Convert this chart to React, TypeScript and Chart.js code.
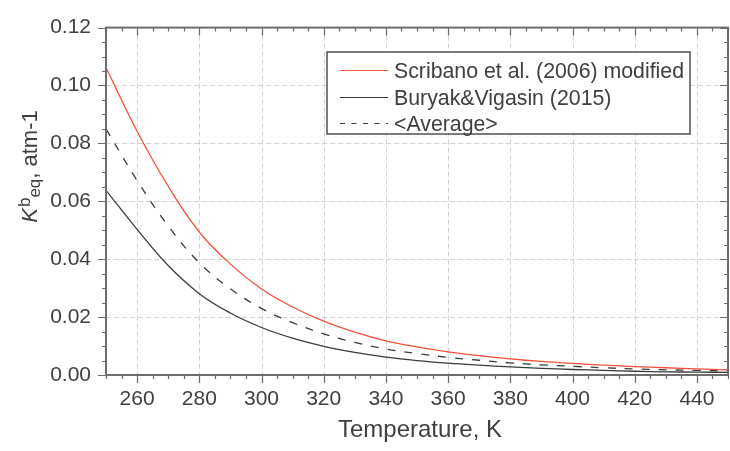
import React, { useEffect, useRef } from "react";
import { Chart, registerables } from "chart.js";

Chart.register(...registerables);

// ---- data ----
const temperatures = [250, 260, 270, 280, 290, 300, 310, 320, 330, 340, 350, 360, 370, 380, 390, 400, 410, 420, 430, 440, 450];
const scribano = [0.1062, 0.0842, 0.0652, 0.0494, 0.0383, 0.0297, 0.0235, 0.0186, 0.0148, 0.0118, 0.0097, 0.008, 0.0067, 0.0056, 0.0047, 0.004, 0.0034, 0.0029, 0.0025, 0.0021, 0.0018];
const buryak = [0.0638, 0.0503, 0.0378, 0.0281, 0.0214, 0.0164, 0.0127, 0.0099, 0.0078, 0.0062, 0.005, 0.0041, 0.0034, 0.0028, 0.0023, 0.0019, 0.0016, 0.0013, 0.0011, 0.001, 0.0009];
const average = [0.085, 0.0672, 0.0515, 0.0388, 0.0298, 0.023, 0.0181, 0.0142, 0.0113, 0.009, 0.0074, 0.0061, 0.0051, 0.0042, 0.0035, 0.003, 0.0025, 0.0021, 0.0018, 0.0016, 0.0014];

const xTickValues = [260, 280, 300, 320, 340, 360, 380, 400, 420, 440];
const yTickValues = [0, 0.02, 0.04, 0.06, 0.08, 0.1, 0.12];
const legendLabels = ["Scribano et al. (2006) modified", "Buryak&Vigasin (2015)", "<Average>"];
const xTitle = "Temperature, K";
const yTitleParts = { main: "K", sup: "b", sub: "eq", rest: ", atm-1" };

const X_MIN = 250;
const X_MAX = 450;
const Y_MIN = 0;
const Y_MAX = 0.12;
const X_MINOR = 5;
const Y_MINOR = 0.005;

const FONT = '"Liberation Sans", Arial, Helvetica, sans-serif';
const TEXT = "#404040";
const RED = "#f4503c";
const DARK = "#3c3c3c";

const framePlugin = {
  id: "framePlugin",
  beforeDatasetsDraw(chart: any) {
    const { ctx, chartArea: a, scales } = chart;
    ctx.save();
    ctx.strokeStyle = "#d2d2d2";
    ctx.lineWidth = 1;
    ctx.setLineDash([5, 3]);
    for (const v of xTickValues) {
      const x = Math.round(scales.x.getPixelForValue(v)) + 0.5;
      ctx.beginPath();
      ctx.moveTo(x, a.top);
      ctx.lineTo(x, a.bottom);
      ctx.stroke();
    }
    for (const v of yTickValues) {
      if (v === Y_MIN || v === Y_MAX) continue;
      const y = Math.round(scales.y.getPixelForValue(v)) + 0.5;
      ctx.beginPath();
      ctx.moveTo(a.left, y);
      ctx.lineTo(a.right, y);
      ctx.stroke();
    }
    ctx.restore();
  },
  afterDatasetsDraw(chart: any) {
    const { ctx, chartArea: a, scales } = chart;
    ctx.save();
    ctx.setLineDash([]);
    // tick marks
    ctx.strokeStyle = "#6a6a6a";
    ctx.lineWidth = 1.2;
    const nX = Math.round((X_MAX - X_MIN) / X_MINOR);
    for (let i = 0; i <= nX; i++) {
      const v = X_MIN + i * X_MINOR;
      const major = xTickValues.includes(v);
      const len = major ? 8 : 4;
      const x = Math.round(scales.x.getPixelForValue(v)) + 0.5;
      ctx.beginPath();
      ctx.moveTo(x, a.bottom);
      ctx.lineTo(x, a.bottom + len);
      ctx.moveTo(x, a.top);
      ctx.lineTo(x, a.top + len);
      ctx.stroke();
    }
    const nY = Math.round((Y_MAX - Y_MIN) / Y_MINOR);
    for (let i = 0; i <= nY; i++) {
      const v = Y_MIN + i * Y_MINOR;
      const major = i % 4 === 0;
      const len = major ? 8 : 4;
      const y = Math.round(scales.y.getPixelForValue(v)) + 0.5;
      ctx.beginPath();
      ctx.moveTo(a.left, y);
      ctx.lineTo(a.left - len, y);
      ctx.moveTo(a.right, y);
      ctx.lineTo(a.right - len, y);
      ctx.stroke();
    }
    // frame
    ctx.strokeStyle = "#6e6e6e";
    ctx.lineWidth = 2;
    ctx.strokeRect(a.left, a.top, a.right - a.left, a.bottom - a.top);

    // legend
    const bx = 327, by = 52, bw = 363, bh = 82;
    ctx.fillStyle = "#ffffff";
    ctx.fillRect(bx, by, bw, bh);
    ctx.strokeStyle = "#505050";
    ctx.lineWidth = 1.5;
    ctx.strokeRect(bx, by, bw, bh);
    const rows = [70, 97, 123];
    const colors = [RED, DARK, DARK];
    const dashes = [[], [], [5, 6.5]];
    ctx.font = `21.3px ${FONT}`;
    ctx.textBaseline = "alphabetic";
    ctx.textAlign = "left";
    legendLabels.forEach((label, i) => {
      ctx.strokeStyle = colors[i];
      ctx.lineWidth = 1.2;
      ctx.setLineDash(dashes[i]);
      ctx.beginPath();
      ctx.moveTo(340, rows[i] + 0.5);
      ctx.lineTo(388, rows[i] + 0.5);
      ctx.stroke();
      ctx.setLineDash([]);
      ctx.fillStyle = TEXT;
      ctx.fillText(label, 394, rows[i] + 8);
    });

    // x title
    ctx.fillStyle = TEXT;
    ctx.font = `24px ${FONT}`;
    ctx.textAlign = "center";
    ctx.fillText(xTitle, (a.left + a.right) / 2 + 3, 437);

    // y title (rotated)
    ctx.save();
    ctx.translate(37, 166.5);
    ctx.rotate(-Math.PI / 2);
    ctx.textAlign = "left";
    const big = `22px ${FONT}`;
    const bigI = `italic 22px ${FONT}`;
    const small = `17px ${FONT}`;
    ctx.font = bigI;
    const wK = ctx.measureText(yTitleParts.main).width;
    ctx.font = small;
    const wSup = ctx.measureText(yTitleParts.sup).width;
    const wSub = ctx.measureText(yTitleParts.sub).width;
    ctx.font = big;
    const wRest = ctx.measureText(yTitleParts.rest).width;
    const total = wK + 1 + wSup + wSub + wRest;
    let x = -total / 2;
    ctx.font = bigI;
    ctx.fillText(yTitleParts.main, x, 0);
    x += wK + 1;
    ctx.font = small;
    ctx.fillText(yTitleParts.sup, x, -7);
    x += wSup;
    ctx.fillText(yTitleParts.sub, x, 3);
    x += wSub;
    ctx.font = big;
    ctx.fillText(yTitleParts.rest, x, 0);
    ctx.restore();

    ctx.restore();
  },
};

export default function App() {
  const canvasRef = useRef<HTMLCanvasElement | null>(null);

  useEffect(() => {
    const canvas = canvasRef.current;
    if (!canvas) return;
    const common = {
      borderWidth: 1.3,
      pointRadius: 0,
      fill: false,
      tension: 0.4,
    };
    const chart = new Chart(canvas, {
      type: "line",
      data: {
        datasets: [
          {
            ...common,
            label: legendLabels[0],
            data: temperatures.map((t, i) => ({ x: t, y: scribano[i] })),
            borderColor: RED,
          },
          {
            ...common,
            label: legendLabels[1],
            data: temperatures.map((t, i) => ({ x: t, y: buryak[i] })),
            borderColor: DARK,
          },
          {
            ...common,
            label: legendLabels[2],
            data: temperatures.map((t, i) => ({ x: t, y: average[i] })),
            borderColor: DARK,
            borderDash: [8, 9],
          },
        ],
      },
      options: {
        animation: false,
        responsive: false,
        devicePixelRatio: 1,
        layout: { padding: { top: 21, right: 2, left: 0, bottom: 0 } },
        plugins: { legend: { display: false }, tooltip: { enabled: false } },
        scales: {
          x: {
            type: "linear",
            min: X_MIN,
            max: X_MAX,
            grid: { display: false, drawTicks: false },
            border: { display: false },
            afterBuildTicks: (s: any) => {
              s.ticks = xTickValues.map((v) => ({ value: v }));
            },
            afterFit: (s: any) => {
              s.height = 76;
            },
            ticks: {
              autoSkip: false,
              maxRotation: 0,
              padding: 12,
              color: TEXT,
              font: { family: FONT, size: 21 },
              callback: (v: any) => String(v),
            },
          },
          y: {
            type: "linear",
            min: Y_MIN,
            max: Y_MAX,
            grid: { display: false, drawTicks: false },
            border: { display: false },
            afterBuildTicks: (s: any) => {
              s.ticks = yTickValues.map((v) => ({ value: v }));
            },
            afterFit: (s: any) => {
              s.width = 106;
            },
            ticks: {
              autoSkip: false,
              padding: 15,
              color: TEXT,
              font: { family: FONT, size: 21 },
              callback: (v: any) => Number(v).toFixed(2),
            },
          },
        },
      },
      plugins: [framePlugin],
    } as any);
    return () => chart.destroy();
  }, []);

  return (
    <div style={{ position: "absolute", left: 0, top: 0, width: 730, height: 451, background: "#fff" }}>
      <canvas ref={canvasRef} width={730} height={451} style={{ display: "block" }} />
    </div>
  );
}
